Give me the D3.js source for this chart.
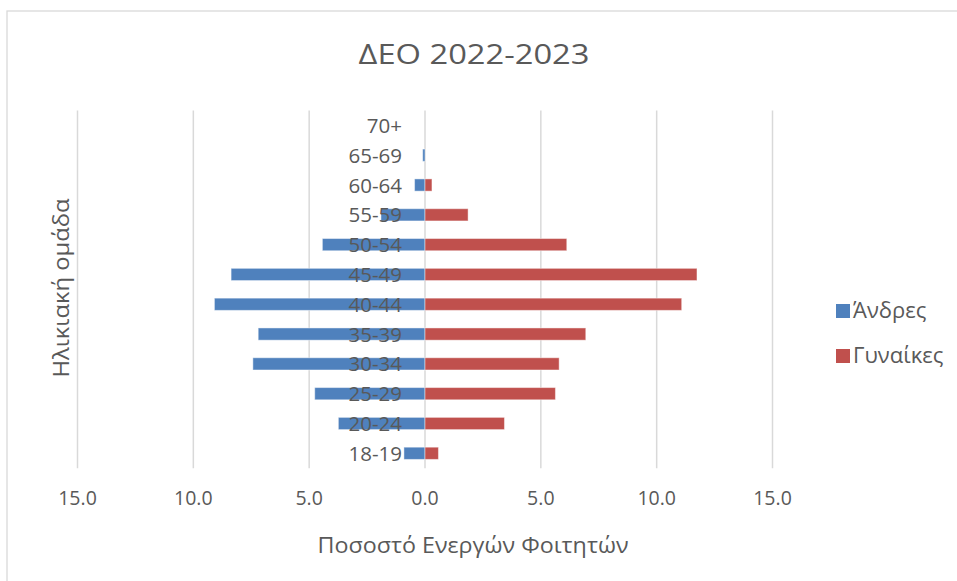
<!DOCTYPE html>
<html>
<head>
<meta charset="utf-8">
<script src="https://cdn.jsdelivr.net/npm/d3@7"></script>
<style>
  html, body { margin: 0; padding: 0; background: #fff; }
  text { font-family: 'Open Sans', 'Noto Sans', sans-serif; fill: #595959; }
</style>
</head>
<body>
<div id="plot"></div>
<script>
// Age groups, bottom to top
const ageGroups = ['18-19', '20-24', '25-29', '30-34', '35-39', '40-44', '45-49', '50-54', '55-59', '60-64', '65-69', '70+'];
// Percent of active students
const men = [0.91, 3.74, 4.76, 7.43, 7.2, 9.09, 8.37, 4.43, 1.9, 0.45, 0.1, 0.0];
const women = [0.58, 3.43, 5.63, 5.79, 6.94, 11.08, 11.74, 6.12, 1.86, 0.3, 0.0, 0.0];
const seriesNames = ['Άνδρες', 'Γυναίκες'];
const xTicks = [-15, -10, -5, 0, 5, 10, 15];

const width = 957;
const height = 581;
const colors = ['#4F81BD', '#C0504D'];

const svg = d3.select('#plot')
  .append('svg')
  .attr('width', width)
  .attr('height', height);

// chart frame
svg.append('rect')
  .attr('x', 7)
  .attr('y', 11)
  .attr('width', 970)
  .attr('height', 600)
  .attr('fill', 'none')
  .attr('stroke', '#d9d9d9')
  .attr('stroke-width', 1.3);

const x = d3.scaleLinear()
  .domain([-15, 15])
  .range([77.5, 772.5]);

const y = d3.scaleBand()
  .domain(ageGroups.slice().reverse())
  .range([110.5, 468.2])
  .paddingInner(0.59)
  .paddingOuter(0.295);

// vertical gridlines
svg.append('g')
  .selectAll('line')
  .data(xTicks)
  .enter()
  .append('line')
  .attr('x1', (d) => x(d))
  .attr('x2', (d) => x(d))
  .attr('y1', 110.5)
  .attr('y2', 468.2)
  .attr('stroke', '#d9d9d9')
  .attr('stroke-width', 1.5);

const rows = ageGroups.map((g, i) => ({ group: g, men: men[i], women: women[i] }));

// men to the left
svg.append('g')
  .selectAll('rect')
  .data(rows)
  .enter()
  .append('rect')
  .attr('x', (d) => x(-d.men))
  .attr('y', (d) => y(d.group))
  .attr('width', (d) => x(0) - x(-d.men))
  .attr('height', y.bandwidth())
  .attr('fill', colors[0])
  .attr('stroke', 'rgba(255,255,255,0.45)')
  .attr('stroke-width', 1);

// women to the right
svg.append('g')
  .selectAll('rect')
  .data(rows)
  .enter()
  .append('rect')
  .attr('x', x(0))
  .attr('y', (d) => y(d.group))
  .attr('width', (d) => x(d.women) - x(0))
  .attr('height', y.bandwidth())
  .attr('fill', colors[1])
  .attr('stroke', 'rgba(255,255,255,0.45)')
  .attr('stroke-width', 1);

// category labels next to the axis
svg.append('g')
  .selectAll('text')
  .data(ageGroups)
  .enter()
  .append('text')
  .attr('x', 402)
  .attr('y', (d) => y(d) + y.bandwidth() / 2 + 7.5)
  .attr('text-anchor', 'end')
  .style('font-size', '20.5px')
  .text((d) => d);

// x tick labels
svg.append('g')
  .selectAll('text')
  .data(xTicks)
  .enter()
  .append('text')
  .attr('x', (d) => x(d))
  .attr('y', 505)
  .attr('text-anchor', 'middle')
  .style('font-size', '19.5px')
  .text((d) => d3.format('.1f')(Math.abs(d)));

// titles
svg.append('text')
  .attr('x', 474)
  .attr('y', 64)
  .attr('text-anchor', 'middle')
  .attr('textLength', 231)
  .attr('lengthAdjust', 'spacingAndGlyphs')
  .style('font-size', '27px')
  .text('ΔΕΟ 2022-2023');

svg.append('text')
  .attr('x', 473)
  .attr('y', 553)
  .attr('text-anchor', 'middle')
  .attr('textLength', 311)
  .attr('lengthAdjust', 'spacingAndGlyphs')
  .style('font-size', '21px')
  .text('Ποσοστό Ενεργών Φοιτητών');

svg.append('text')
  .attr('transform', 'translate(69,288) rotate(-90)')
  .attr('text-anchor', 'middle')
  .attr('textLength', 179)
  .attr('lengthAdjust', 'spacingAndGlyphs')
  .style('font-size', '22px')
  .text('Ηλικιακή ομάδα');

// legend
const legend = svg.append('g')
  .selectAll('g')
  .data(seriesNames)
  .enter()
  .append('g')
  .attr('transform', (d, i) => `translate(836,${304 + i * 45})`);

legend.append('rect')
  .attr('width', 14)
  .attr('height', 14)
  .attr('fill', (d, i) => colors[i]);

legend.append('text')
  .attr('x', 17)
  .attr('y', 14)
  .style('font-size', '22px')
  .text((d) => d);
</script>
</body>
</html>
